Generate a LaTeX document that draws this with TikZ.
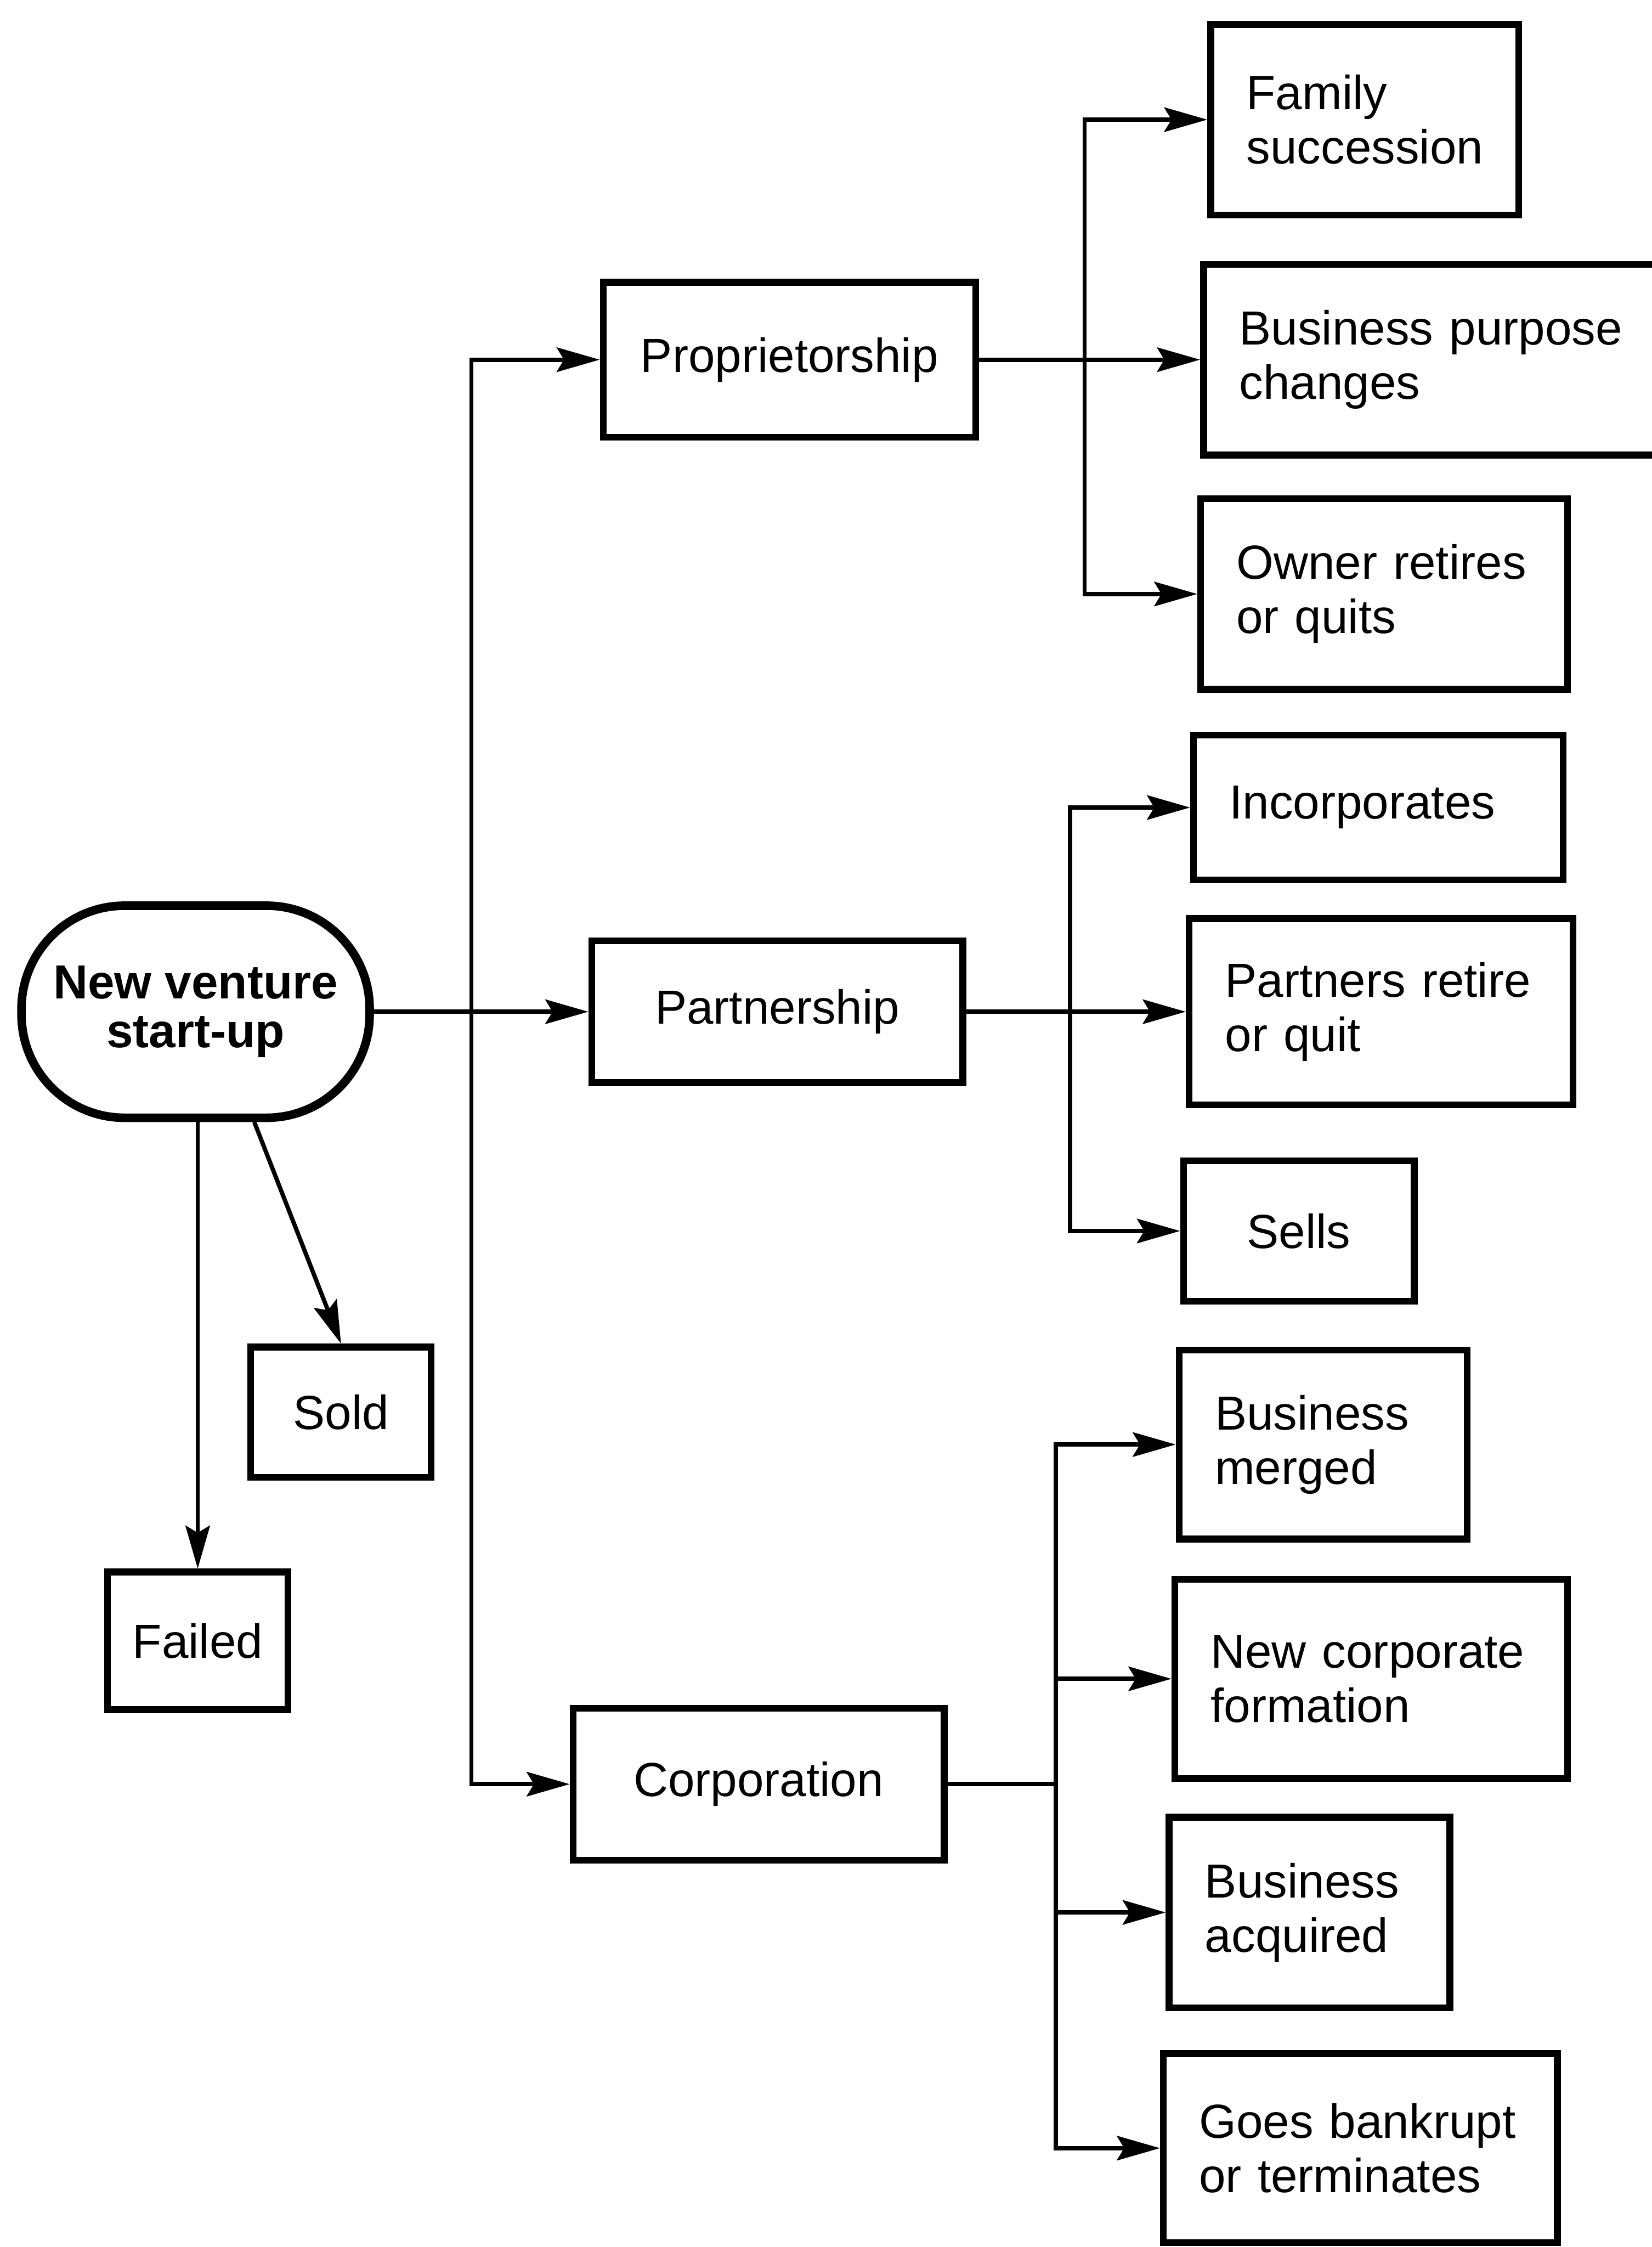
\documentclass[tikz,border=0pt]{standalone}
\usepackage{fontspec}
\setmainfont{Liberation Sans}
\usetikzlibrary{arrows.meta}

\begin{document}
\begin{tikzpicture}[
    every node/.style={font=\fontsize{9.5}{10.8}\selectfont},
    box/.style={draw, line width=1.35pt, inner sep=0pt, align=center},
    outcome/.style={draw, line width=1.35pt, inner xsep=0.25cm, inner ysep=0pt, align=left},
    venture/.style={draw, line width=1.7pt, rounded corners=0.72cm, align=center,
      font=\bfseries\fontsize{9.5}{9.7}\selectfont},
    link/.style={line width=0.85pt, -{Stealth[length=3mm, width=1.7mm, inset=0.5mm]}}
  ]
  \useasboundingbox (0,0) rectangle (11.53,-15.68);

  \node[venture, minimum width=2.43cm, minimum height=1.48cm] (start) at (1.365,-7.06) {New venture\\start-up};

  \node[box, minimum width=2.6cm, minimum height=1.08cm] (prop) at (5.51,-2.51) {Proprietorship};
  \node[box, minimum width=2.59cm, minimum height=0.99cm] (partn) at (5.425,-7.06) {Partnership};
  \node[box, minimum width=2.59cm, minimum height=1.06cm] (corp) at (5.295,-12.45) {Corporation};
  \node[box, minimum width=1.26cm, minimum height=0.91cm] (sold) at (2.38,-9.855) {Sold};
  \node[box, minimum width=1.26cm, minimum height=0.96cm] (failed) at (1.38,-11.45) {Failed};

  \node[outcome, text width=1.65cm, minimum height=1.33cm] (fam) at (9.525,-0.835) {Family\\succession};
  \node[outcome, text width=2.75cm, minimum height=1.33cm] (purp) at (10.025,-2.51) {Business purpose\\changes};
  \node[outcome, text width=2.06cm, minimum height=1.33cm] (owner) at (9.66,-4.145) {Owner retires\\or quits};
  \node[outcome, text width=2.08cm, minimum height=1.01cm] (inc) at (9.62,-5.635) {Incorporates};
  \node[outcome, text width=2.18cm, minimum height=1.30cm] (partq) at (9.64,-7.06) {Partners retire\\or quit};
  \node[box, minimum width=1.61cm, minimum height=0.98cm] (sells) at (9.065,-8.59) {Sells};
  \node[outcome, text width=1.51cm, minimum height=1.32cm] (merged) at (9.235,-10.08) {Business\\merged};
  \node[outcome, text width=2.24cm, minimum height=1.39cm] (newcorp) at (9.57,-11.715) {New corporate\\formation};
  \node[outcome, text width=1.46cm, minimum height=1.33cm] (acq) at (9.14,-13.345) {Business\\acquired};
  \node[outcome, text width=2.25cm, minimum height=1.32cm] (bankr) at (9.495,-14.99) {Goes bankrupt\\or terminates};

  \coordinate (trunk) at (3.29,-7.06);
  \coordinate (pbr) at (7.57,-2.51);
  \coordinate (nbr) at (7.47,-7.06);
  \coordinate (cbr) at (7.37,-12.45);

  \draw[link] (start) -- (partn);
  \draw[link] (trunk) |- (prop);
  \draw[link] (trunk) |- (corp);
  \draw[link] (start.south -| failed) -- (failed);
  \draw[link] ([xshift=4.1mm]start.south) -- (sold.north);

  \draw[link] (prop) -- (purp);
  \foreach \n in {fam, owner}
    \draw[link] (pbr) |- (\n);

  \draw[link] (partn) -- (partq);
  \foreach \n in {inc, sells}
    \draw[link] (nbr) |- (\n);

  \draw[line width=0.85pt] (corp) -- (cbr);
  \foreach \n in {merged, newcorp, acq, bankr}
    \draw[link] (cbr) |- (\n);
\end{tikzpicture}
\end{document}
